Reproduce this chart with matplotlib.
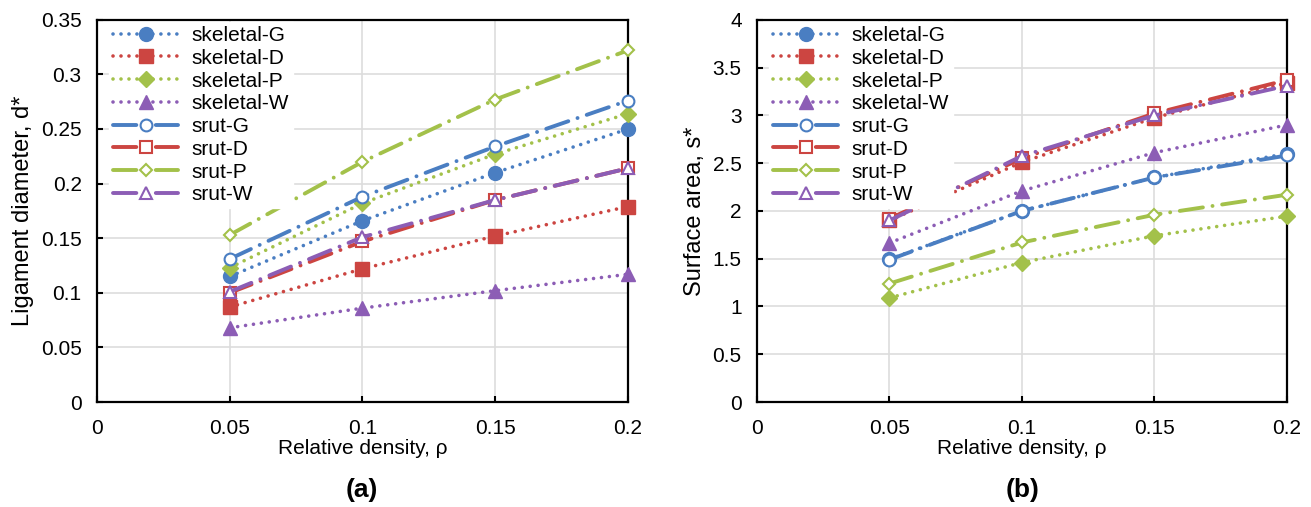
import matplotlib
matplotlib.use('Agg')
import matplotlib.pyplot as plt

plt.rcParams['font.family'] = ['Liberation Sans', 'DejaVu Sans']

# data
rho = [0.05, 0.1, 0.15, 0.2]
labels = ['skeletal-G', 'skeletal-D', 'skeletal-P', 'skeletal-W',
          'srut-G', 'srut-D', 'srut-P', 'srut-W']

# (a) ligament diameter
d_skel_G = [0.115, 0.166, 0.210, 0.250]
d_skel_D = [0.087, 0.122, 0.152, 0.179]
d_skel_P = [0.123, 0.182, 0.227, 0.264]
d_skel_W = [0.068, 0.086, 0.102, 0.117]
d_srut_G = [0.131, 0.188, 0.234, 0.276]
d_srut_D = [0.100, 0.147, 0.185, 0.214]
d_srut_P = [0.153, 0.220, 0.277, 0.322]
d_srut_W = [0.101, 0.151, 0.185, 0.214]

# (b) surface area
s_skel_G = [1.495, 2.00, 2.35, 2.60]
s_skel_D = [1.90, 2.51, 2.975, 3.34]
s_skel_P = [1.09, 1.46, 1.74, 1.945]
s_skel_W = [1.665, 2.21, 2.61, 2.90]
s_srut_G = [1.49, 2.00, 2.35, 2.58]
s_srut_D = [1.92, 2.55, 3.02, 3.37]
s_srut_P = [1.24, 1.67, 1.96, 2.17]
s_srut_W = [1.90, 2.575, 3.00, 3.31]

blue = '#4A7EC2'
red = '#CC4541'
green = '#A3C14A'
purple = '#8C5DB5'
colors = [blue, red, green, purple]
markers = ['o', 's', 'D', '^']
msizes = [10, 9.5, 8, 10]

fig = plt.figure(figsize=(13.11, 5.07), dpi=100)
ax1 = fig.add_axes([0.074, 0.207, 0.405, 0.754])
ax2 = fig.add_axes([0.5774, 0.207, 0.4043, 0.754])


def draw(ax, skel, srut):
    for i in range(4):
        ax.plot(rho, skel[i], color=colors[i], marker=markers[i], ms=msizes[i],
                lw=2.6, linestyle=(0, (0.01, 2.2)), dash_capstyle='round',
                label=labels[i], clip_on=False, zorder=3)
    for i in range(4):
        ax.plot(rho, srut[i], color=colors[i], marker=markers[i], ms=msizes[i] - 1.5,
                mfc='white', mew=1.5, lw=2.8, linestyle=(0, (6, 2.5, 0.01, 2.5)),
                dash_capstyle='round', label=labels[4 + i], clip_on=False, zorder=3)
    ax.set_xlim(0, 0.2)
    ax.set_xticks([0, 0.05, 0.1, 0.15, 0.2])
    ax.set_xticklabels(['0', '0.05', '0.1', '0.15', '0.2'])
    ax.grid(True, color='#DDDDDD', lw=1.2)
    ax.set_axisbelow(True)
    for sp in ax.spines.values():
        sp.set_linewidth(1.6)
        sp.set_color('black')
    ax.tick_params(direction='in', length=4, width=1.5, labelsize=15)
    ax.tick_params(axis='x', pad=12)
    ax.tick_params(axis='y', pad=11)
    ax.set_xlabel('Relative density, \u03c1', fontsize=15, labelpad=1)
    leg = ax.legend(loc='upper left', bbox_to_anchor=(0.019, 1.0), fontsize=15,
                    handlelength=3.1, labelspacing=0.18, borderaxespad=0.1,
                    handletextpad=0.65, fancybox=False, framealpha=1,
                    edgecolor='white', borderpad=0.2)
    leg.set_zorder(5)


draw(ax1, [d_skel_G, d_skel_D, d_skel_P, d_skel_W],
     [d_srut_G, d_srut_D, d_srut_P, d_srut_W])
ax1.set_ylim(0, 0.35)
ax1.set_yticks([0, 0.05, 0.1, 0.15, 0.2, 0.25, 0.3, 0.35])
ax1.set_yticklabels(['0', '0.05', '0.1', '0.15', '0.2', '0.25', '0.3', '0.35'])
ax1.set_ylabel('Ligament diameter, d*', fontsize=17, labelpad=5)

draw(ax2, [s_skel_G, s_skel_D, s_skel_P, s_skel_W],
     [s_srut_G, s_srut_D, s_srut_P, s_srut_W])
ax2.set_ylim(0, 4)
ax2.set_yticks([0, 0.5, 1, 1.5, 2, 2.5, 3, 3.5, 4])
ax2.set_yticklabels(['0', '0.5', '1', '1.5', '2', '2.5', '3', '3.5', '4'])
ax2.set_ylabel('Surface area, s*', fontsize=17, labelpad=5)

fig.text(0.276, 0.033, '(a)', fontsize=19, fontweight='bold', ha='center', va='center')
fig.text(0.78, 0.033, '(b)', fontsize=19, fontweight='bold', ha='center', va='center')

fig.savefig('out.png', dpi=100)
